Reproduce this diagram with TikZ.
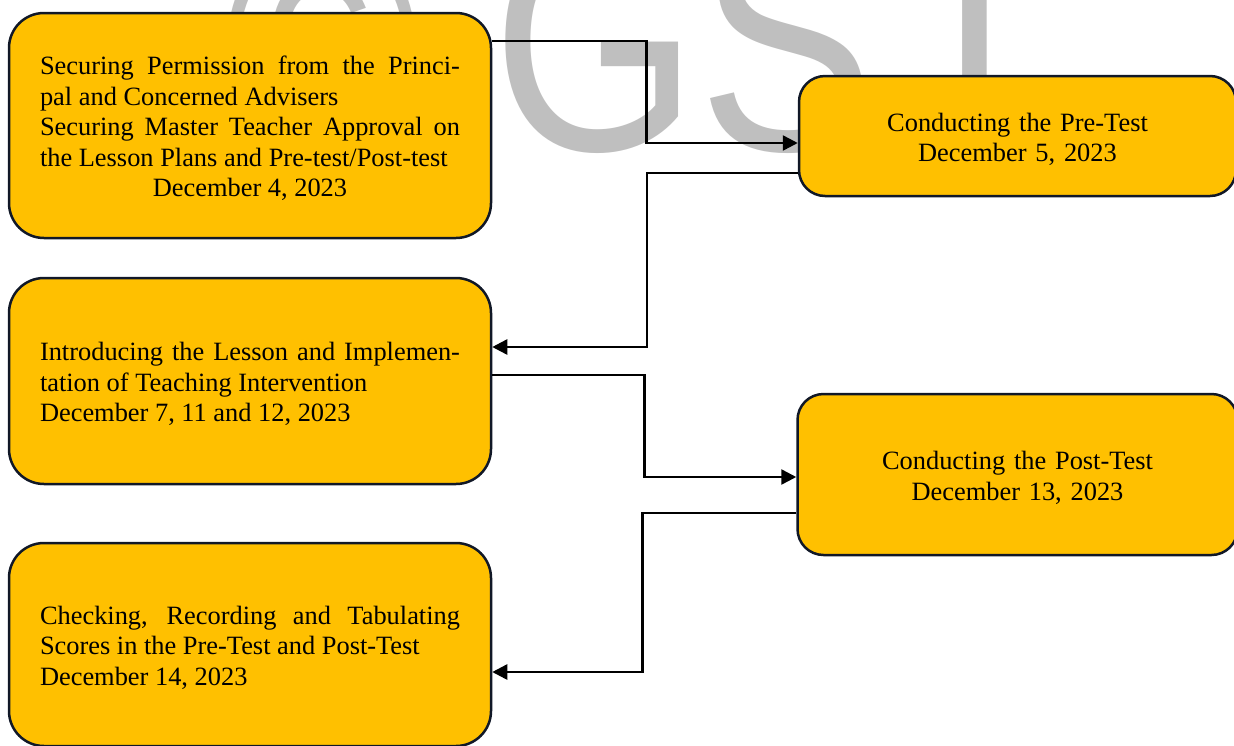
\documentclass[tikz,border=0pt]{standalone}
\usepackage{fontspec}
\setmainfont{Liberation Serif}
\newfontfamily\marksans[FakeStretch=0.84]{Liberation Sans}
\usetikzlibrary{arrows.meta, positioning}
\definecolor{boxgold}{RGB}{255,192,0}
\definecolor{boxedge}{RGB}{17,24,39}
\definecolor{markgray}{RGB}{191,191,191}
% pulls the text block of a box a little down
\newcommand{\lowertext}[1]{\par\nointerlineskip\kern-#1\hbox{}}

\begin{document}
\begin{tikzpicture}[
    x=1pt, y=-1pt,
    wide_box/.style={rectangle, rounded corners=35pt, minimum width=482pt, text width=420pt, align=justify, draw=boxedge, fill=boxgold, line width=2.5pt, font=\fontsize{26.4}{30.5}\selectfont, execute at end node=\lowertext{6pt}},
    test_box/.style={rectangle, rounded corners=26pt, text width=400pt, align=center, draw=boxedge, fill=boxgold, line width=2.5pt, font=\fontsize{26.4}{30.5}\selectfont, execute at end node=\lowertext{7pt}},
    arrow/.style={-{Triangle[length=15pt, width=15pt]}, line width=2.5pt},
    % Style for the faint background mark
    watermark/.style={text=markgray, font=\marksans\fontsize{315}{315}\selectfont, inner sep=0pt, anchor=base west}
]
\useasboundingbox (0,0) rectangle (1234,745);

% Background mark
\node (gsj) [watermark] at (224,150) {© GSJ};

% Left column: preparation, lessons, scoring
\node (permission) [wide_box, minimum height=225pt] at (250,125.5) {Securing Permission from the Princi-\linebreak pal and Concerned Advisers\\ Securing Master Teacher Approval on\linebreak the Lesson Plans and Pre-test/Post-test\\ \hspace*{\fill}December 4, 2023\hspace*{\fill}\null};
\node (lesson) [wide_box, minimum height=206pt, below=37.5pt of permission] {Introducing the Lesson and Implemen-\linebreak tation of Teaching Intervention\\ December 7, 11 and 12, 2023};
\node (checking) [wide_box, minimum height=203pt, below=56.5pt of lesson] {Checking, Recording and Tabulating\linebreak Scores in the Pre-Test and Post-Test\\ December 14, 2023};

% Right column: tests
\node (pretest) [test_box, minimum width=437pt, minimum height=120pt] at (1017.5,136) {Conducting the Pre-Test\\ December 5, 2023};
\node (posttest) [test_box, minimum width=440pt, minimum height=161pt, below=195.5pt of pretest] {Conducting the Post-Test\\ December 13, 2023};

% Arrows
\draw [arrow] ([yshift=-29pt]permission.north east) -- ++(154,0) |- ([yshift=-7pt]pretest.west);
\draw [arrow] ([yshift=-37pt]pretest.west) -- ++(-151,0) |- ([yshift=34pt]lesson.east);
\draw [arrow] ([yshift=6pt]lesson.east) -- ++(152,0) |- ([yshift=-2.5pt]posttest.west);
\draw [arrow] ([yshift=-38.5pt]posttest.west) -- ++(-154,0) |- ([yshift=-27.5pt]checking.east);

\end{tikzpicture}
\end{document}
